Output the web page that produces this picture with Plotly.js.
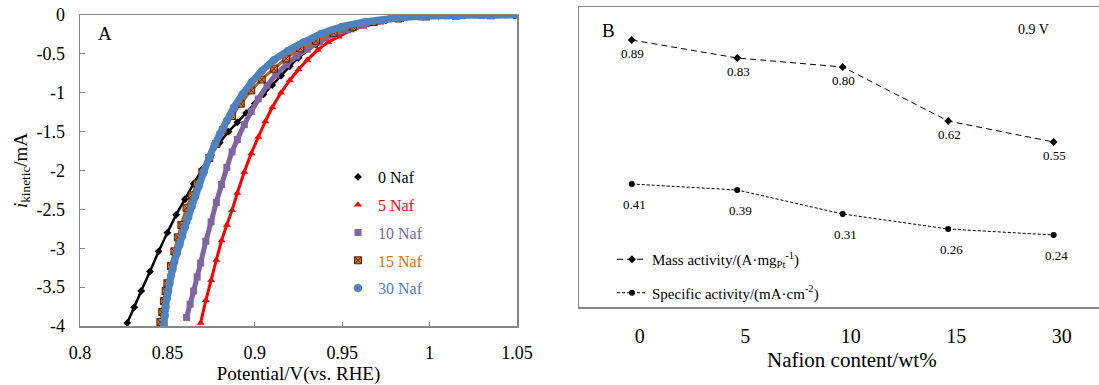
<!DOCTYPE html>
<html><head><meta charset="utf-8">
<script src="https://cdn.plot.ly/plotly-3.0.1.min.js"></script>
<style>body{margin:0;background:#fff}#chart{width:1099px;height:385px}</style>
</head><body><div id="chart"></div>
<script>
// ---------- Panel A data (potential V vs RHE, kinetic current mA) ----------
const pot0 = [0.827,0.831,0.835,0.840,0.845,0.850,0.855,0.860,0.865,0.870,0.875,0.880,0.885,0.890,0.895,0.900,0.905,0.910,0.915,0.920,0.925,0.935,0.945,0.955,0.965,0.975,0.985,0.995,1.005,1.020,1.035,1.050];
const cur0 = [-3.96,-3.76,-3.55,-3.30,-3.04,-2.80,-2.57,-2.37,-2.17,-1.98,-1.80,-1.64,-1.50,-1.38,-1.26,-1.14,-1.02,-0.90,-0.78,-0.66,-0.55,-0.38,-0.26,-0.17,-0.11,-0.07,-0.04,-0.02,-0.01,-0.005,-0.002,0];

const pot5 = [0.869,0.872,0.875,0.878,0.881,0.884,0.887,0.890,0.894,0.898,0.902,0.906,0.910,0.915,0.920,0.925,0.930,0.936,0.942,0.948,0.955,0.962,0.970,0.980,0.990,1.000,1.015,1.030,1.050];
const cur5 = [-3.96,-3.67,-3.41,-3.15,-2.90,-2.70,-2.51,-2.29,-2.02,-1.78,-1.57,-1.37,-1.19,-1.00,-0.84,-0.70,-0.58,-0.45,-0.35,-0.28,-0.20,-0.15,-0.10,-0.06,-0.035,-0.02,-0.01,-0.005,0];

const pot10 = [0.861,0.863,0.865,0.867,0.869,0.872,0.875,0.878,0.881,0.884,0.887,0.890,0.894,0.898,0.902,0.907,0.912,0.918,0.924,0.930,0.937,0.945,0.953,0.962,0.972,0.983,0.995,1.010,1.030,1.050];
const cur10 = [-3.89,-3.72,-3.55,-3.37,-3.19,-2.91,-2.66,-2.41,-2.18,-1.96,-1.76,-1.60,-1.41,-1.24,-1.08,-0.91,-0.77,-0.64,-0.53,-0.44,-0.35,-0.25,-0.19,-0.13,-0.08,-0.045,-0.025,-0.01,-0.004,0];

const pot15 = [0.846,0.847,0.848,0.849,0.850,0.852,0.854,0.856,0.858,0.861,0.864,0.867,0.870,0.874,0.878,0.882,0.887,0.892,0.898,0.904,0.911,0.918,0.926,0.935,0.945,0.956,0.968,0.982,0.998,1.015,1.035,1.050];
const cur15 = [-3.95,-3.82,-3.68,-3.55,-3.45,-3.23,-3.04,-2.86,-2.70,-2.48,-2.32,-2.17,-2.02,-1.84,-1.66,-1.48,-1.30,-1.14,-0.97,-0.83,-0.69,-0.56,-0.43,-0.33,-0.23,-0.15,-0.09,-0.045,-0.018,-0.008,-0.003,0];

const pot30 = [0.848,0.8485,0.849,0.8497,0.8505,0.8513,0.852,0.853,0.854,0.8555,0.857,0.8585,0.860,0.862,0.864,0.866,0.868,0.871,0.874,0.877,0.880,0.884,0.888,0.893,0.898,0.904,0.911,0.919,0.928,0.938,0.950,0.963,0.978,0.995,1.015,1.035,1.050];
const cur30 = [-3.99,-3.87,-3.76,-3.65,-3.55,-3.45,-3.36,-3.27,-3.17,-3.06,-2.95,-2.84,-2.73,-2.60,-2.46,-2.33,-2.20,-2.01,-1.83,-1.67,-1.53,-1.36,-1.19,-1.02,-0.87,-0.72,-0.58,-0.46,-0.35,-0.24,-0.15,-0.09,-0.045,-0.016,-0.006,-0.002,0];

const seriesNamesA = ['0 Naf','5 Naf','10 Naf','15 Naf','30 Naf'];
const yTickValsA = [0,-0.5,-1,-1.5,-2,-2.5,-3,-3.5,-4];
const yTickTextA = ['0','-0.5','-1','-1.5','-2','-2.5','-3','-3.5','-4'];

// ---------- Panel B data ----------
const nafion = ['0','5','10','15','30'];
const massActivity = [0.89,0.83,0.80,0.62,0.55];
const specificActivity = [0.41,0.39,0.31,0.26,0.24];

const serif = 'Liberation Serif';
const gray = '#868686';

const styleA = [
  {color:'#000000', symbol:'diamond', size:6, lw:2.5, band:'#000000', mline:{width:0}},
  {color:'#FF0000', symbol:'triangle-up', size:7, lw:3, band:'#FF0000', mline:{width:0}},
  {color:'#8064A2', symbol:'square', size:7, lw:5, band:'#8064A2', mline:{width:0}},
  {color:'#E46C0A', symbol:'square-x', size:7, lw:3, band:'#C0601A', mline:{width:1,color:'#4a2508'}},
  {color:'#4F81BD', symbol:'circle', size:8, lw:7, band:'#4F81BD', mline:{width:0}}
];
const xsA = [pot0,pot5,pot10,pot15,pot30];
const ysA = [cur0,cur5,cur10,cur15,cur30];

const traces = [];
for (let k=0;k<5;k++){
  const s = styleA[k];
  traces.push({x:xsA[k], y:ysA[k], xaxis:'x', yaxis:'y', mode:'lines', showlegend:false,
    line:{color:s.band, width:s.lw, shape:'spline', smoothing:0.6}, hoverinfo:'skip'});
  traces.push({x:xsA[k], y:ysA[k], xaxis:'x', yaxis:'y', mode:'markers',
    name:'<span style="color:'+s.color+'">'+seriesNamesA[k]+'</span>',
    legend:'legend', legendgroup:'g'+k,
    marker:{color:s.color, symbol:s.symbol, size:s.size, line:s.mline}});
}

traces.push({x:nafion, y:massActivity, xaxis:'x2', yaxis:'y2', mode:'lines+markers',
  name:'Mass activity/(A·mg<sub>Pt</sub><sup>-1</sup>)', legend:'legend2', legendgroup:'m',
  line:{color:'#000', width:1, dash:'6px,4px'}, marker:{symbol:'diamond', size:6, color:'#000'}});
traces.push({x:nafion, y:specificActivity, xaxis:'x2', yaxis:'y2', mode:'lines+markers',
  name:'Specific activity/(mA·cm<sup>-2</sup>)', legend:'legend2', legendgroup:'s',
  line:{color:'#000', width:1, dash:'3px,2px'}, marker:{symbol:'circle', size:6, color:'#000'}});

const annotations = [
  {xref:'paper', yref:'paper', x:105/1099, y:(385-33)/385, xanchor:'center', yanchor:'middle', text:'A', showarrow:false, font:{family:serif, size:19, color:'#000'}},
  {xref:'paper', yref:'paper', x:608/1099, y:(385-30)/385, xanchor:'center', yanchor:'middle', text:'B', showarrow:false, font:{family:serif, size:19, color:'#000'}},
  {xref:'paper', yref:'paper', x:1033/1099, y:(385-29)/385, xanchor:'center', yanchor:'middle', text:'0.9 V', showarrow:false, font:{family:serif, size:14, color:'#000'}},
  {xref:'paper', yref:'paper', x:852/1099, y:(385-360)/385, xanchor:'center', yanchor:'middle', text:'Nafion content/wt%', showarrow:false, font:{family:serif, size:21, color:'#000'}}
];
for (let i=0;i<nafion.length;i++){
  annotations.push({xref:'x2', yref:'y2', x:i, y:massActivity[i], text:massActivity[i].toFixed(2),
    xanchor:'center', yanchor:'middle',
    showarrow:false, yshift:-13, xshift:1, font:{family:serif, size:13, color:'#000'}});
  annotations.push({xref:'x2', yref:'y2', x:i, y:specificActivity[i], text:specificActivity[i].toFixed(2),
    xanchor:'center', yanchor:'middle',
    showarrow:false, yshift:-20, xshift:3, font:{family:serif, size:13, color:'#000'}});
}

const layout = {
  width:1099, height:385, margin:{l:0,r:0,t:0,b:0},
  paper_bgcolor:'#fff', plot_bgcolor:'#fff',
  font:{family:serif, size:18, color:'#000'},
  xaxis:{domain:[80/1099, 517/1099], anchor:'y', range:[0.8,1.05], dtick:0.05, tick0:0.8,
    showline:true, linecolor:gray, linewidth:1.5, mirror:true, ticks:'inside', ticklen:4, tickcolor:gray,
    showgrid:false, zeroline:false, tickfont:{family:serif, size:18, color:'#000'}, ticklabelstandoff:10,
    title:{text:'Potential/V(vs. RHE)', font:{family:serif, size:19}, standoff:2}},
  yaxis:{domain:[(385-326)/385, (385-15)/385], anchor:'x', range:[-4,0],
    tickvals:yTickValsA, ticktext:yTickTextA,
    showline:true, linecolor:gray, linewidth:1.5, mirror:true, ticks:'inside', ticklen:5, tickcolor:gray,
    showgrid:false, zeroline:false, tickfont:{family:serif, size:18, color:'#000'}, ticklabelstandoff:10,
    title:{text:'<i>i</i><sub>kinetic</sub>/mA', font:{family:serif, size:19}, standoff:4}},
  xaxis2:{domain:[579/1099, 1], anchor:'y2', type:'category', range:[-0.5,4.43],
    showline:true, linecolor:gray, linewidth:1.5, mirror:true, ticks:'', showgrid:false, zeroline:false,
    tickfont:{family:serif, size:20, color:'#000'}, ticklabelstandoff:10, ticklabelshift:8},
  yaxis2:{domain:[(385-307)/385, (385-7)/385], anchor:'x2', range:[0,1],
    showline:true, linecolor:gray, linewidth:1.5, mirror:false, ticks:'', showticklabels:false,
    showgrid:false, zeroline:false},
  legend:{x:338/1099, y:(385-160)/385, xanchor:'left', yanchor:'top', bgcolor:'rgba(0,0,0,0)',
    font:{family:serif, size:16}, itemwidth:30, tracegroupgap:4, traceorder:'grouped'},
  legend2:{x:612/1099, y:(385-243)/385, xanchor:'left', yanchor:'top', bgcolor:'rgba(0,0,0,0)',
    font:{family:serif, size:15, color:'#000'}, itemwidth:30, tracegroupgap:11, traceorder:'grouped'},
  annotations:annotations,
  showlegend:true
};

Plotly.newPlot('chart', traces, layout, {displayModeBar:false, staticPlot:true});
</script></body></html>
